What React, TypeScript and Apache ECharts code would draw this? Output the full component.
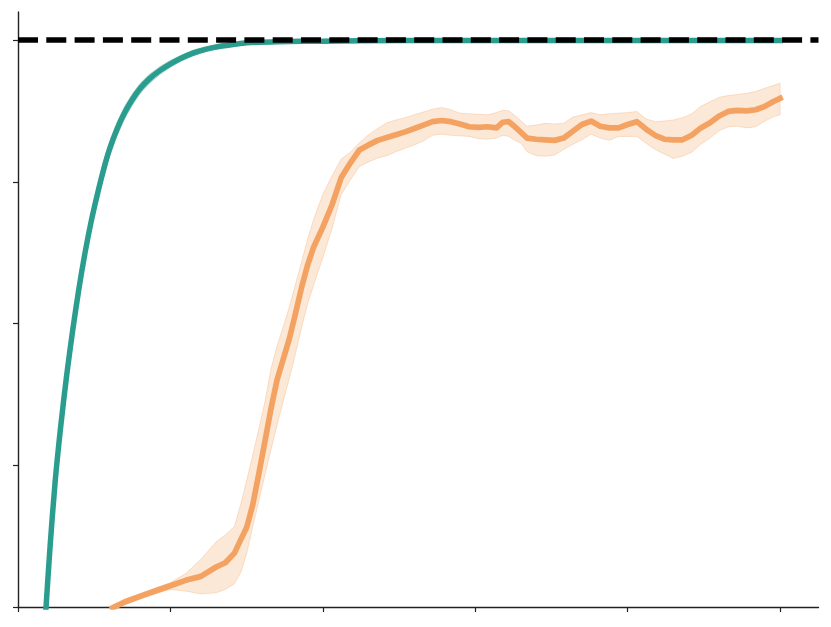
import React, { useEffect, useRef } from "react";
import * as echarts from "echarts";

// ---- data ----
const X_TICKS = [0, 50, 100, 150, 200, 250];
const Y_TICKS = [0, 0.25, 0.5, 0.75, 1.0];
const TARGET = 1.0;

const tealX = [8.6, 9.2, 10.5, 12.2, 14.0, 16.0, 18.0, 20.0, 22.0, 24.0, 26.0, 28.0, 30.0, 32.5, 35.0, 37.5, 40.0, 43.0, 46.5, 50.0, 53.5, 57.4, 61.8, 66.3, 70.5, 75.0, 85, 100, 125, 150, 175, 200, 225, 250];
const tealMean = [-0.05, 0, 0.105, 0.222, 0.318, 0.41, 0.49, 0.562, 0.625, 0.68, 0.727, 0.77, 0.807, 0.843, 0.872, 0.895, 0.914, 0.931, 0.946, 0.958, 0.968, 0.977, 0.984, 0.989, 0.992, 0.995, 0.997, 0.998, 0.999, 0.999, 0.999, 0.999, 0.999, 0.999];
const tealLow = [-0.06, -0.01, 0.095, 0.212, 0.307, 0.398, 0.477, 0.549, 0.611, 0.666, 0.713, 0.756, 0.794, 0.831, 0.861, 0.885, 0.905, 0.923, 0.939, 0.952, 0.963, 0.972, 0.98, 0.985, 0.989, 0.992, 0.995, 0.996, 0.997, 0.997, 0.997, 0.997, 0.997, 0.997];
const tealHigh = [-0.04, 0.01, 0.115, 0.232, 0.329, 0.422, 0.503, 0.575, 0.639, 0.694, 0.741, 0.784, 0.82, 0.855, 0.883, 0.905, 0.923, 0.939, 0.953, 0.964, 0.973, 0.982, 0.988, 0.993, 0.995, 0.998, 0.999, 1.0, 1.001, 1.001, 1.001, 1.001, 1.001, 1.001];

const orangeX = [31, 35, 40, 45, 50, 55, 60, 65, 68, 71, 73, 75, 77, 79, 81, 83, 85, 87, 89, 91, 93, 95, 97, 100, 103, 106, 109, 112, 115, 118, 121, 124, 127, 130, 133, 136, 139, 142, 145, 148, 151, 154, 157, 159, 161, 163, 165, 167, 170, 173, 176, 179, 182, 185, 188, 191, 194, 197, 200, 203, 206, 209, 212, 215, 218, 221, 224, 227, 230, 233, 236, 239, 242, 245, 248, 250];
const orangeMean = [-0.0015, 0.0088, 0.0187, 0.0283, 0.0375, 0.047, 0.054, 0.0705, 0.078, 0.095, 0.118, 0.14, 0.18, 0.235, 0.292, 0.35, 0.401, 0.437, 0.473, 0.517, 0.563, 0.603, 0.635, 0.67, 0.709, 0.757, 0.783, 0.806, 0.815, 0.823, 0.828, 0.833, 0.838, 0.844, 0.85, 0.856, 0.858, 0.856, 0.852, 0.847, 0.846, 0.847, 0.845, 0.855, 0.856, 0.847, 0.837, 0.827, 0.825, 0.824, 0.823, 0.827, 0.839, 0.851, 0.857, 0.848, 0.845, 0.845, 0.851, 0.856, 0.843, 0.832, 0.825, 0.824, 0.824, 0.832, 0.845, 0.854, 0.866, 0.874, 0.876, 0.875, 0.877, 0.883, 0.892, 0.897];
const orangeLow = [-0.0065, 0.0038, 0.0137, 0.0233, 0.031, 0.028, 0.023, 0.025, 0.031, 0.041, 0.06, 0.094, 0.141, 0.187, 0.233, 0.278, 0.321, 0.363, 0.403, 0.446, 0.492, 0.535, 0.568, 0.616, 0.667, 0.727, 0.753, 0.777, 0.785, 0.792, 0.796, 0.803, 0.809, 0.815, 0.822, 0.832, 0.834, 0.832, 0.831, 0.83, 0.826, 0.825, 0.827, 0.832, 0.83, 0.823, 0.818, 0.803, 0.796, 0.795, 0.797, 0.807, 0.816, 0.824, 0.834, 0.827, 0.823, 0.83, 0.83, 0.83, 0.818, 0.807, 0.799, 0.791, 0.795, 0.802, 0.816, 0.827, 0.84, 0.847, 0.848, 0.845, 0.847, 0.857, 0.865, 0.868];
const orangeHigh = [0.0035, 0.0138, 0.0237, 0.0333, 0.043, 0.059, 0.084, 0.115, 0.127, 0.142, 0.18, 0.223, 0.268, 0.314, 0.362, 0.42, 0.461, 0.494, 0.529, 0.569, 0.608, 0.649, 0.684, 0.728, 0.76, 0.79, 0.802, 0.819, 0.833, 0.844, 0.854, 0.859, 0.863, 0.868, 0.873, 0.878, 0.881, 0.877, 0.871, 0.87, 0.869, 0.868, 0.872, 0.876, 0.875, 0.867, 0.857, 0.848, 0.85, 0.853, 0.852, 0.853, 0.864, 0.868, 0.872, 0.868, 0.87, 0.871, 0.872, 0.874, 0.861, 0.856, 0.857, 0.859, 0.863, 0.87, 0.883, 0.891, 0.899, 0.902, 0.904, 0.906, 0.909, 0.915, 0.92, 0.924];

const X_MAX = 262.6;
const Y_MAX = 1.0494;

const TEAL = "#2a9d8f";
const ORANGE = "#f4a261";

function bandSeries(xs: number[], lo: number[], hi: number[], fill: string, stroke: string) {
  return {
    type: "custom",
    silent: true,
    clip: true,
    z: 1,
    data: [[0, 0]],
    renderItem: (_params: any, api: any) => {
      const pts: number[][] = [];
      for (let i = 0; i < xs.length; i++) pts.push(api.coord([xs[i], hi[i]]));
      for (let i = xs.length - 1; i >= 0; i--) pts.push(api.coord([xs[i], lo[i]]));
      return {
        type: "polygon",
        shape: { points: pts },
        style: { fill, stroke, lineWidth: 1 },
      };
    },
  };
}

export default function App() {
  const ref = useRef<HTMLDivElement>(null);
  useEffect(() => {
    if (!ref.current) return;
    const chart = echarts.init(ref.current, undefined, { renderer: "svg" });
    const axisColor = "#222";
    chart.setOption({
      animation: false,
      backgroundColor: "#fff",
      grid: { left: 18, right: 12.5, top: 12, bottom: 20, containLabel: false },
      xAxis: {
        type: "value",
        min: 0,
        max: X_MAX,
        interval: 50,
        axisLine: { show: true, onZero: false, lineStyle: { color: axisColor, width: 1.4 } },
        axisTick: { show: true, length: 5, customValues: X_TICKS, lineStyle: { color: axisColor, width: 1.2 } },
        axisLabel: { show: false },
        splitLine: { show: false },
      },
      yAxis: {
        type: "value",
        min: 0,
        max: Y_MAX,
        interval: 0.25,
        axisLine: { show: true, onZero: false, lineStyle: { color: axisColor, width: 1.4 } },
        axisTick: { show: true, length: 5, customValues: Y_TICKS, lineStyle: { color: axisColor, width: 1.2 } },
        axisLabel: { show: false },
        splitLine: { show: false },
      },
      series: [
        bandSeries(tealX, tealLow, tealHigh, "rgba(42,157,143,0.3)", "rgba(42,157,143,0.3)"),
        bandSeries(orangeX, orangeLow, orangeHigh, "rgba(244,162,97,0.25)", "rgba(244,162,97,0.3)"),
        {
          type: "line",
          data: tealX.map((x, i) => [x, tealMean[i]]),
          showSymbol: false,
          smooth: 0.3,
          z: 3,
          lineStyle: { color: TEAL, width: 5.5, cap: "square", join: "round" },
          clip: true,
          silent: true,
        },
        {
          type: "line",
          data: orangeX.map((x, i) => [x, orangeMean[i]]),
          showSymbol: false,
          z: 3,
          lineStyle: { color: ORANGE, width: 5.7, cap: "square", join: "round" },
          clip: true,
          silent: true,
        },
        {
          type: "line",
          data: [],
          z: 5,
          silent: true,
          markLine: {
            silent: true,
            symbol: ["none", "none"],
            label: { show: false },
            lineStyle: { color: "#000", width: 5.5, type: [20, 8.3], cap: "butt" },
            data: [{ yAxis: TARGET }],
          },
        },
      ],
    });
    return () => chart.dispose();
  }, []);
  return (
    <div
      ref={ref}
      style={{ position: "fixed", left: 0, top: 0, width: 831, height: 627, background: "#fff" }}
    />
  );
}
